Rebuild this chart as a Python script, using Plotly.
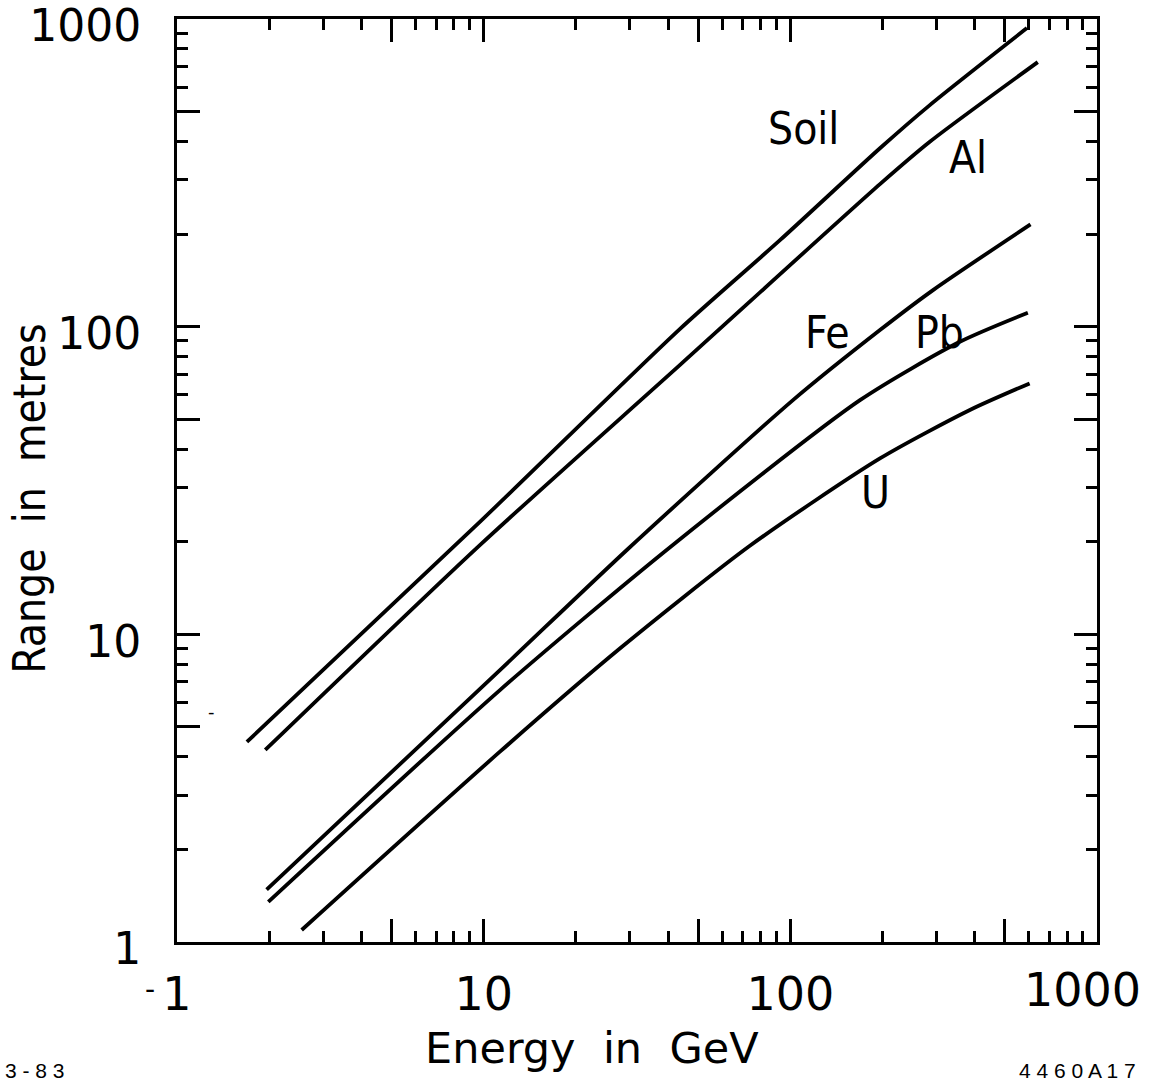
import math
import plotly.graph_objects as go

# Muon range in various absorbers versus energy (log-log)
soil_E = [1.69, 9.72, 43.6, 92.5, 196, 285, 591]
soil_R = [4.47, 23.2, 98.2, 191, 380, 525, 934]

al_E = [1.94, 9.72, 43.6, 196, 285, 641]
al_R = [4.21, 19.5, 75.0, 290.6, 399, 724]

fe_E = [1.96, 11.3, 29.3, 102, 196, 292, 607]
fe_R = [1.48, 7.65, 18.8, 57.7, 97.5, 131.5, 215]

pb_E = [1.985, 11.3, 39.5, 168.7, 357, 595]
pb_R = [1.35, 6.59, 18.8, 57.7, 89.3, 111]

u_E = [2.55, 11.3, 27.8, 73.8, 196, 385, 603]
u_R = [1.094, 4.155, 8.99, 19.4, 37.3, 53.6, 65.4]

series = [
    ("Soil", soil_E, soil_R),
    ("Al", al_E, al_R),
    ("Fe", fe_E, fe_R),
    ("Pb", pb_E, pb_R),
    ("U", u_E, u_R),
]

# curve label anchor points (energy, range)
label_names = ["Soil", "Al", "Fe", "Pb", "U"]
label_E = [110, 379, 132.6, 307.5, 190]
label_R = [442, 356, 96, 96, 29]

major_vals = [1, 5, 10, 50, 100, 500, 1000]
x_major_text = ["1", "", "10", "", "100", "", ""]
y_major_text = ["1", "", "10", "", "100", "", "1000"]
minor_vals = [m * d for d in [1, 10, 100] for m in (2, 3, 4, 6, 7, 8, 9)]

NUM_FONT = "DejaVu Sans"
WORD_FONT = "DejaVu Sans Condensed, DejaVu Sans"

fig = go.Figure()
for name, E, R in series:
    fig.add_trace(go.Scatter(
        x=E, y=R, mode="lines", name=name,
        line=dict(color="black", width=3.8, shape="spline", smoothing=0.7),
        showlegend=False, hoverinfo="skip",
    ))

# log axes take annotation positions in log10 units
for name, xe, yr in zip(label_names, label_E, label_R):
    fig.add_annotation(x=math.log10(xe), y=math.log10(yr), xref="x", yref="y",
                       text=name, showarrow=False,
                       font=dict(family=WORD_FONT, size=44, color="black"))

axis_common = dict(
    type="log", range=[0, 3], automargin=False,
    tickmode="array", tickvals=major_vals,
    ticks="inside", ticklen=23, tickwidth=3, tickcolor="black",
    showline=True, linewidth=3, linecolor="black", mirror="allticks",
    showgrid=False, zeroline=False,
    ticklabeloverflow="allow",
    minor=dict(tickmode="array", tickvals=minor_vals, ticks="inside",
               ticklen=11, tickwidth=3, tickcolor="black", showgrid=False),
)

fig.update_layout(
    width=1153, height=1086,
    margin=dict(l=177, r=56, t=19, b=144),
    paper_bgcolor="white", plot_bgcolor="white",
    xaxis=dict(axis_common, ticktext=x_major_text, ticklabelstandoff=10,
               tickfont=dict(family=NUM_FONT, size=46, color="black")),
    yaxis=dict(axis_common, ticktext=y_major_text, ticklabelstandoff=24,
               ticklabelshift=7,
               tickfont=dict(family=NUM_FONT, size=44, color="black")),
)

# last energy label, pulled in from the right edge
fig.add_annotation(xref="paper", yref="paper", x=0.9837, y=-0.052,
                   xanchor="center", yanchor="middle", text="1000",
                   showarrow=False,
                   font=dict(family=NUM_FONT, size=46, color="black"))

# axis titles
fig.add_annotation(xref="paper", yref="paper", x=0.451, y=-0.115,
                   xanchor="center", yanchor="middle",
                   text="Energy  in  GeV", showarrow=False,
                   font=dict(family=NUM_FONT, size=43, color="black"))
fig.add_annotation(xref="paper", yref="paper", x=-0.16, y=0.48,
                   xanchor="center", yanchor="middle", textangle=-90,
                   text="Range  in  metres", showarrow=False,
                   font=dict(family=WORD_FONT, size=44, color="black"))

# small marks beside the axes
fig.add_annotation(xref="paper", yref="paper", x=-0.029, y=-0.052,
                   xanchor="center", yanchor="middle",
                   text="-", showarrow=False,
                   font=dict(family=NUM_FONT, size=28, color="black"))
fig.add_annotation(xref="paper", yref="paper", x=0.038, y=0.25,
                   xanchor="center", yanchor="middle",
                   text="-", showarrow=False,
                   font=dict(family=NUM_FONT, size=18, color="black"))

# drawing identifiers in the bottom corners
fig.add_annotation(xref="paper", yref="paper", x=-0.189, y=-0.139,
                   xanchor="left", yanchor="middle", text="3 - 8 3",
                   showarrow=False,
                   font=dict(family="Liberation Sans", size=21, color="black"))
fig.add_annotation(xref="paper", yref="paper", x=1.045, y=-0.139,
                   xanchor="right", yanchor="middle", text="4 4 6 0 A 1 7",
                   showarrow=False,
                   font=dict(family="Liberation Sans", size=21, color="black"))

fig.write_html("out.html")
